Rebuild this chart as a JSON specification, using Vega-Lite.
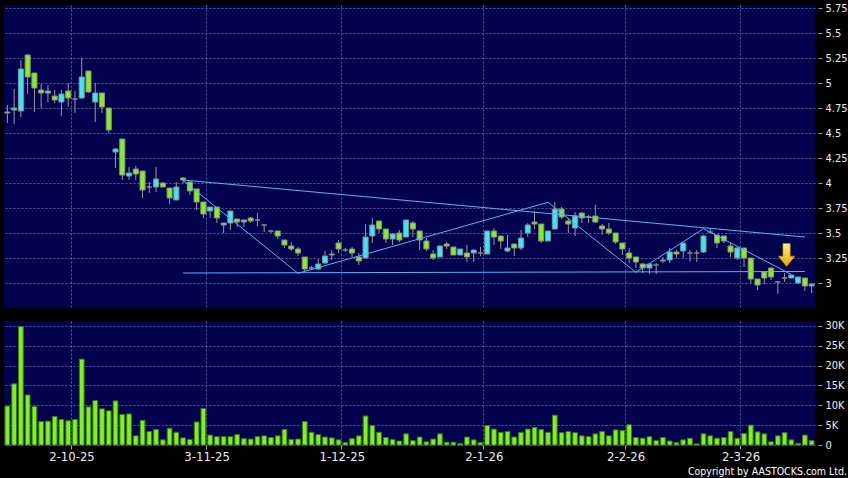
{
  "$schema": "https://vega.github.io/schema/vega-lite/v6.json",
  "background": "#000000",
  "padding": {"left": 4, "top": 2, "right": 0, "bottom": 0},
  "spacing": 12,
  "title": {"text": "Copyright by AASTOCKS.com Ltd.", "orient": "bottom", "anchor": "end", "font": "DejaVu Sans Condensed", "fontSize": 10.5, "fontWeight": "normal", "color": "#ffffff", "offset": 4},
  "config": {
    "view": {"fill": "#02024e", "stroke": null},
    "axis": {"labelFont": "DejaVu Sans Condensed", "labelColor": "#ececec", "tickColor": "#a0a0a0", "gridColor": "#5c5c98", "gridDash": [2, 2], "gridWidth": 1, "domain": false, "title": null, "labelOverlap": false}
  },
  "datasets": {
    "ohlc": [
      {"d":"2025-09-17","O":4.70,"H":4.78,"L":4.60,"C":4.71,"v":9800},
      {"d":"2025-09-18","O":4.73,"H":4.94,"L":4.59,"C":4.75,"v":15400},
      {"d":"2025-09-19","O":4.72,"H":5.23,"L":4.66,"C":5.14,"v":29800},
      {"d":"2025-09-22","O":5.28,"H":5.29,"L":4.89,"C":5.06,"v":12600},
      {"d":"2025-09-23","O":5.10,"H":5.10,"L":4.71,"C":4.95,"v":9700},
      {"d":"2025-09-24","O":4.93,"H":4.99,"L":4.75,"C":4.90,"v":5900},
      {"d":"2025-09-25","O":4.90,"H":4.98,"L":4.81,"C":4.92,"v":6000},
      {"d":"2025-09-26","O":4.87,"H":4.93,"L":4.80,"C":4.83,"v":7200},
      {"d":"2025-09-29","O":4.81,"H":4.93,"L":4.67,"C":4.89,"v":6400},
      {"d":"2025-09-30","O":4.92,"H":5.00,"L":4.76,"C":4.85,"v":6100},
      {"d":"2025-10-02","O":4.84,"H":4.92,"L":4.70,"C":4.84,"v":6400},
      {"d":"2025-10-03","O":4.85,"H":5.25,"L":4.84,"C":5.06,"v":21600},
      {"d":"2025-10-06","O":5.12,"H":5.12,"L":4.90,"C":4.91,"v":9600},
      {"d":"2025-10-08","O":4.81,"H":5.00,"L":4.61,"C":4.90,"v":11200},
      {"d":"2025-10-09","O":4.90,"H":4.90,"L":4.70,"C":4.76,"v":9100},
      {"d":"2025-10-10","O":4.75,"H":4.75,"L":4.50,"C":4.53,"v":8600},
      {"d":"2025-10-13","O":4.31,"H":4.35,"L":4.15,"C":4.34,"v":11100},
      {"d":"2025-10-14","O":4.44,"H":4.44,"L":4.03,"C":4.08,"v":7700},
      {"d":"2025-10-15","O":4.07,"H":4.16,"L":4.03,"C":4.10,"v":7800},
      {"d":"2025-10-16","O":4.14,"H":4.17,"L":4.03,"C":4.09,"v":2300},
      {"d":"2025-10-17","O":4.12,"H":4.12,"L":3.85,"C":3.93,"v":6200},
      {"d":"2025-10-20","O":3.96,"H":4.01,"L":3.90,"C":3.96,"v":3400},
      {"d":"2025-10-21","O":3.96,"H":4.16,"L":3.91,"C":4.04,"v":3900},
      {"d":"2025-10-22","O":4.00,"H":4.01,"L":3.96,"C":3.96,"v":1300},
      {"d":"2025-10-23","O":3.95,"H":3.95,"L":3.79,"C":3.85,"v":4200},
      {"d":"2025-10-24","O":3.83,"H":4.01,"L":3.83,"C":3.96,"v":3200},
      {"d":"2025-10-27","O":4.05,"H":4.06,"L":4.00,"C":4.03,"v":1800},
      {"d":"2025-10-28","O":4.01,"H":4.01,"L":3.88,"C":3.92,"v":1400},
      {"d":"2025-10-30","O":3.94,"H":3.94,"L":3.73,"C":3.81,"v":5800},
      {"d":"2025-10-31","O":3.81,"H":3.81,"L":3.65,"C":3.69,"v":9200},
      {"d":"2025-11-03","O":3.72,"H":3.76,"L":3.65,"C":3.76,"v":2500},
      {"d":"2025-11-04","O":3.76,"H":3.76,"L":3.60,"C":3.65,"v":2100},
      {"d":"2025-11-05","O":3.58,"H":3.60,"L":3.50,"C":3.60,"v":2100},
      {"d":"2025-11-06","O":3.60,"H":3.72,"L":3.53,"C":3.72,"v":2100},
      {"d":"2025-11-07","O":3.64,"H":3.64,"L":3.56,"C":3.61,"v":2600},
      {"d":"2025-11-10","O":3.61,"H":3.63,"L":3.56,"C":3.63,"v":1600},
      {"d":"2025-11-11","O":3.65,"H":3.66,"L":3.60,"C":3.62,"v":1500},
      {"d":"2025-11-12","O":3.63,"H":3.70,"L":3.57,"C":3.63,"v":2100},
      {"d":"2025-11-13","O":3.58,"H":3.59,"L":3.51,"C":3.58,"v":2300},
      {"d":"2025-11-14","O":3.52,"H":3.53,"L":3.50,"C":3.52,"v":1900},
      {"d":"2025-11-17","O":3.52,"H":3.52,"L":3.44,"C":3.47,"v":2300},
      {"d":"2025-11-18","O":3.43,"H":3.43,"L":3.35,"C":3.38,"v":3900},
      {"d":"2025-11-19","O":3.37,"H":3.41,"L":3.32,"C":3.34,"v":1400},
      {"d":"2025-11-20","O":3.34,"H":3.36,"L":3.27,"C":3.30,"v":1500},
      {"d":"2025-11-21","O":3.26,"H":3.26,"L":3.12,"C":3.14,"v":5900},
      {"d":"2025-11-24","O":3.15,"H":3.17,"L":3.13,"C":3.15,"v":3200},
      {"d":"2025-11-25","O":3.14,"H":3.24,"L":3.13,"C":3.19,"v":2600},
      {"d":"2025-11-26","O":3.20,"H":3.32,"L":3.19,"C":3.27,"v":2000},
      {"d":"2025-11-27","O":3.29,"H":3.33,"L":3.23,"C":3.28,"v":1800},
      {"d":"2025-11-28","O":3.40,"H":3.43,"L":3.30,"C":3.34,"v":1300},
      {"d":"2025-12-01","O":3.33,"H":3.35,"L":3.31,"C":3.33,"v":600},
      {"d":"2025-12-02","O":3.34,"H":3.36,"L":3.26,"C":3.30,"v":1600},
      {"d":"2025-12-03","O":3.26,"H":3.30,"L":3.18,"C":3.22,"v":2300},
      {"d":"2025-12-04","O":3.25,"H":3.59,"L":3.25,"C":3.46,"v":7300},
      {"d":"2025-12-05","O":3.47,"H":3.65,"L":3.40,"C":3.58,"v":4900},
      {"d":"2025-12-08","O":3.62,"H":3.62,"L":3.50,"C":3.54,"v":3200},
      {"d":"2025-12-09","O":3.54,"H":3.54,"L":3.40,"C":3.44,"v":1900},
      {"d":"2025-12-10","O":3.44,"H":3.50,"L":3.38,"C":3.49,"v":1400},
      {"d":"2025-12-11","O":3.50,"H":3.53,"L":3.41,"C":3.43,"v":1000},
      {"d":"2025-12-12","O":3.46,"H":3.63,"L":3.46,"C":3.63,"v":2800},
      {"d":"2025-12-15","O":3.60,"H":3.62,"L":3.46,"C":3.54,"v":1100},
      {"d":"2025-12-16","O":3.52,"H":3.52,"L":3.33,"C":3.43,"v":2000},
      {"d":"2025-12-17","O":3.42,"H":3.45,"L":3.32,"C":3.34,"v":800},
      {"d":"2025-12-18","O":3.29,"H":3.33,"L":3.23,"C":3.25,"v":1500},
      {"d":"2025-12-19","O":3.26,"H":3.38,"L":3.26,"C":3.37,"v":2800},
      {"d":"2025-12-22","O":3.39,"H":3.41,"L":3.34,"C":3.37,"v":700},
      {"d":"2025-12-23","O":3.36,"H":3.36,"L":3.28,"C":3.28,"v":700},
      {"d":"2025-12-24","O":3.28,"H":3.34,"L":3.28,"C":3.34,"v":400},
      {"d":"2025-12-29","O":3.30,"H":3.38,"L":3.21,"C":3.26,"v":2000},
      {"d":"2025-12-30","O":3.30,"H":3.33,"L":3.21,"C":3.33,"v":1300},
      {"d":"2025-12-31","O":3.30,"H":3.36,"L":3.27,"C":3.30,"v":600},
      {"d":"2026-01-02","O":3.29,"H":3.52,"L":3.29,"C":3.52,"v":4900},
      {"d":"2026-01-05","O":3.52,"H":3.55,"L":3.38,"C":3.46,"v":4000},
      {"d":"2026-01-06","O":3.47,"H":3.47,"L":3.34,"C":3.42,"v":3200},
      {"d":"2026-01-07","O":3.32,"H":3.48,"L":3.31,"C":3.35,"v":3400},
      {"d":"2026-01-08","O":3.39,"H":3.39,"L":3.27,"C":3.35,"v":2000},
      {"d":"2026-01-09","O":3.35,"H":3.53,"L":3.33,"C":3.45,"v":3200},
      {"d":"2026-01-12","O":3.50,"H":3.60,"L":3.46,"C":3.58,"v":4000},
      {"d":"2026-01-13","O":3.61,"H":3.72,"L":3.54,"C":3.59,"v":4400},
      {"d":"2026-01-14","O":3.59,"H":3.59,"L":3.40,"C":3.42,"v":3900},
      {"d":"2026-01-15","O":3.42,"H":3.52,"L":3.42,"C":3.52,"v":3200},
      {"d":"2026-01-16","O":3.54,"H":3.81,"L":3.54,"C":3.74,"v":7500},
      {"d":"2026-01-19","O":3.74,"H":3.76,"L":3.64,"C":3.66,"v":3100},
      {"d":"2026-01-20","O":3.62,"H":3.65,"L":3.50,"C":3.59,"v":3400},
      {"d":"2026-01-21","O":3.55,"H":3.71,"L":3.47,"C":3.67,"v":3100},
      {"d":"2026-01-22","O":3.70,"H":3.71,"L":3.60,"C":3.65,"v":2300},
      {"d":"2026-01-23","O":3.66,"H":3.68,"L":3.60,"C":3.66,"v":2100},
      {"d":"2026-01-26","O":3.67,"H":3.78,"L":3.60,"C":3.61,"v":2800},
      {"d":"2026-01-27","O":3.57,"H":3.59,"L":3.48,"C":3.54,"v":3400},
      {"d":"2026-01-28","O":3.54,"H":3.60,"L":3.48,"C":3.50,"v":2300},
      {"d":"2026-01-29","O":3.50,"H":3.50,"L":3.39,"C":3.41,"v":3800},
      {"d":"2026-01-30","O":3.40,"H":3.40,"L":3.28,"C":3.34,"v":3600},
      {"d":"2026-02-02","O":3.30,"H":3.35,"L":3.20,"C":3.25,"v":5100},
      {"d":"2026-02-03","O":3.26,"H":3.26,"L":3.15,"C":3.21,"v":1900},
      {"d":"2026-02-04","O":3.19,"H":3.20,"L":3.10,"C":3.15,"v":1700},
      {"d":"2026-02-05","O":3.15,"H":3.20,"L":3.09,"C":3.19,"v":2100},
      {"d":"2026-02-06","O":3.18,"H":3.20,"L":3.09,"C":3.18,"v":1100},
      {"d":"2026-02-09","O":3.22,"H":3.26,"L":3.20,"C":3.23,"v":1900},
      {"d":"2026-02-10","O":3.23,"H":3.35,"L":3.20,"C":3.31,"v":1000},
      {"d":"2026-02-11","O":3.31,"H":3.33,"L":3.25,"C":3.29,"v":600},
      {"d":"2026-02-12","O":3.32,"H":3.40,"L":3.25,"C":3.40,"v":1300},
      {"d":"2026-02-13","O":3.30,"H":3.33,"L":3.21,"C":3.30,"v":1700},
      {"d":"2026-02-16","O":3.30,"H":3.33,"L":3.21,"C":3.30,"v":300},
      {"d":"2026-02-20","O":3.31,"H":3.48,"L":3.30,"C":3.47,"v":2800},
      {"d":"2026-02-23","O":3.51,"H":3.55,"L":3.50,"C":3.51,"v":2300},
      {"d":"2026-02-24","O":3.48,"H":3.48,"L":3.35,"C":3.40,"v":1700},
      {"d":"2026-02-25","O":3.47,"H":3.47,"L":3.40,"C":3.42,"v":1900},
      {"d":"2026-02-26","O":3.37,"H":3.40,"L":3.26,"C":3.31,"v":3400},
      {"d":"2026-02-27","O":3.25,"H":3.36,"L":3.23,"C":3.35,"v":1700},
      {"d":"2026-03-02","O":3.35,"H":3.35,"L":3.16,"C":3.25,"v":2900},
      {"d":"2026-03-03","O":3.25,"H":3.25,"L":3.00,"C":3.04,"v":5000},
      {"d":"2026-03-04","O":3.04,"H":3.04,"L":2.93,"C":2.98,"v":3300},
      {"d":"2026-03-05","O":3.11,"H":3.11,"L":2.99,"C":3.05,"v":2800},
      {"d":"2026-03-06","O":3.15,"H":3.15,"L":3.03,"C":3.06,"v":800},
      {"d":"2026-03-09","O":3.01,"H":3.02,"L":2.89,"C":3.01,"v":2300},
      {"d":"2026-03-10","O":3.05,"H":3.10,"L":3.01,"C":3.05,"v":3100},
      {"d":"2026-03-11","O":3.05,"H":3.08,"L":3.05,"C":3.08,"v":1300},
      {"d":"2026-03-12","O":3.00,"H":3.06,"L":2.99,"C":3.06,"v":400},
      {"d":"2026-03-13","O":3.05,"H":3.05,"L":2.92,"C":2.97,"v":2500},
      {"d":"2026-03-16","O":2.97,"H":2.99,"L":2.90,"C":2.99,"v":1100}
    ],
    "lines": [
      {"s":"upper","d":"2025-10-27","p":4.03},
      {"s":"upper","d":"2026-03-13","p":3.46},
      {"s":"lower","d":"2025-10-27","p":3.10},
      {"s":"lower","d":"2026-03-13","p":3.115},
      {"s":"zig","d":"2025-10-27","p":4.025},
      {"s":"zig","d":"2025-11-20","p":3.097},
      {"s":"zig","d":"2026-01-15","p":3.807},
      {"s":"zig","d":"2026-02-03","p":3.107},
      {"s":"zig","d":"2026-02-20","p":3.543},
      {"s":"zig","d":"2026-03-11","p":3.085}
    ],
    "arrow": [
      {"d":"2026-03-10","p":3.28}
    ]
  },
  "vconcat": [
    {
      "width": 811,
      "height": 302,
      "data": {"name": "ohlc"},
      "layer": [
        {
          "mark": {"type": "rule", "color": "#9a9a9a", "strokeWidth": 1},
          "encoding": {
            "x": {"field": "d", "type": "ordinal", "scale": {"paddingInner": 0, "paddingOuter": 0},
                  "axis": {"values": ["2025-10-02","2025-11-03","2025-12-01","2026-01-02","2026-02-02","2026-03-02"], "labels": false, "ticks": false, "grid": true, "bandPosition": 0}},
            "y": {"field": "L", "type": "quantitative", "scale": {"domain": [2.76, 5.78], "nice": false, "zero": false},
                  "axis": {"orient": "right", "values": [3,3.25,3.5,3.75,4,4.25,4.5,4.75,5,5.25,5.5,5.75], "labelExpr": "datum.value + ''", "labelOverlap": false, "labelBound": false, "grid": true, "tickSize": 4, "offset": 3, "labelPadding": 3, "labelFontSize": 11}},
            "y2": {"field": "H"}
          }
        },
        {
          "mark": {"type": "bar", "width": {"band": 0.75}, "stroke": "#8c8c8c", "strokeWidth": 1},
          "encoding": {
            "x": {"field": "d", "type": "ordinal", "scale": {"paddingInner": 0, "paddingOuter": 0},
                  "axis": {"values": ["2025-10-02","2025-11-03","2025-12-01","2026-01-02","2026-02-02","2026-03-02"], "labels": false, "ticks": false, "grid": true, "bandPosition": 0}},
            "y": {"field": "O", "type": "quantitative", "scale": {"domain": [2.76, 5.78], "nice": false, "zero": false},
                  "axis": {"orient": "right", "values": [3,3.25,3.5,3.75,4,4.25,4.5,4.75,5,5.25,5.5,5.75], "labelExpr": "datum.value + ''", "labelOverlap": false, "labelBound": false, "grid": true, "tickSize": 4, "offset": 3, "labelPadding": 3, "labelFontSize": 11}},
            "y2": {"field": "C"},
            "fill": {"condition": [{"test": "datum.C > datum.O", "value": "#38e8f4"}, {"test": "datum.C < datum.O", "value": "#86ee1c"}], "value": "#9a9a9a"}
          }
        },
        {
          "data": {"name": "lines"},
          "mark": {"type": "line", "color": "#5ab4f0", "strokeWidth": 1},
          "encoding": {
            "x": {"field": "d", "type": "ordinal", "scale": {"paddingInner": 0, "paddingOuter": 0},
                  "axis": {"values": ["2025-10-02","2025-11-03","2025-12-01","2026-01-02","2026-02-02","2026-03-02"], "labels": false, "ticks": false, "grid": true, "bandPosition": 0}},
            "y": {"field": "p", "type": "quantitative", "scale": {"domain": [2.76, 5.78], "nice": false, "zero": false},
                  "axis": {"orient": "right", "values": [3,3.25,3.5,3.75,4,4.25,4.5,4.75,5,5.25,5.5,5.75], "labelExpr": "datum.value + ''", "labelOverlap": false, "labelBound": false, "grid": true, "tickSize": 4, "offset": 3, "labelPadding": 3, "labelFontSize": 11}},
            "detail": {"field": "s"}
          }
        },
        {
          "data": {"name": "arrow"},
          "mark": {"type": "point", "shape": "M-0.32,-1 L0.32,-1 L0.32,0.1 L0.72,0.1 L0,1 L-0.72,0.1 L-0.32,0.1 Z", "size": 529, "filled": true, "opacity": 1, "xOffset": 2,
                   "fill": {"gradient": "linear", "x1": 0, "y1": 0, "x2": 0, "y2": 1, "stops": [{"offset": 0, "color": "#fff27a"}, {"offset": 1, "color": "#eaa000"}]},
                   "stroke": "#b88000", "strokeWidth": 0.6},
          "encoding": {
            "x": {"field": "d", "type": "ordinal", "scale": {"paddingInner": 0, "paddingOuter": 0},
                  "axis": {"values": ["2025-10-02","2025-11-03","2025-12-01","2026-01-02","2026-02-02","2026-03-02"], "labels": false, "ticks": false, "grid": true, "bandPosition": 0}},
            "y": {"field": "p", "type": "quantitative", "scale": {"domain": [2.76, 5.78], "nice": false, "zero": false},
                  "axis": {"orient": "right", "values": [3,3.25,3.5,3.75,4,4.25,4.5,4.75,5,5.25,5.5,5.75], "labelExpr": "datum.value + ''", "labelOverlap": false, "labelBound": false, "grid": true, "tickSize": 4, "offset": 3, "labelPadding": 3, "labelFontSize": 11}}
          }
        }
      ]
    },
    {
      "width": 811,
      "height": 124,
      "data": {"name": "ohlc"},
      "mark": {"type": "bar", "width": {"band": 0.7}, "fill": "#80f020", "stroke": "#3a7a10", "strokeWidth": 1},
      "encoding": {
        "x": {"field": "d", "type": "ordinal", "scale": {"paddingInner": 0, "paddingOuter": 0},
              "axis": {"values": ["2025-10-02","2025-11-03","2025-12-01","2026-01-02","2026-02-02","2026-03-02"],
                       "labelExpr": "toNumber(slice(datum.value, 8)) + '-' + toNumber(slice(datum.value, 5, 7)) + '-' + slice(datum.value, 2, 4)",
                       "labelAngle": 0, "labelOverlap": false, "labelFlush": false, "bandPosition": 0, "grid": true, "ticks": true, "tickSize": 4, "labelPadding": 1, "labelOffset": -3, "labelFontSize": 13}},
        "y": {"field": "v", "type": "quantitative", "scale": {"domain": [0, 31200], "nice": false},
              "axis": {"orient": "right", "values": [0,5000,10000,15000,20000,25000,30000], "labelExpr": "datum.value == 0 ? '0' : (datum.value / 1000) + 'K'", "grid": true, "tickSize": 4, "offset": 3, "labelPadding": 3, "labelFontSize": 11}}
      }
    }
  ]
}
